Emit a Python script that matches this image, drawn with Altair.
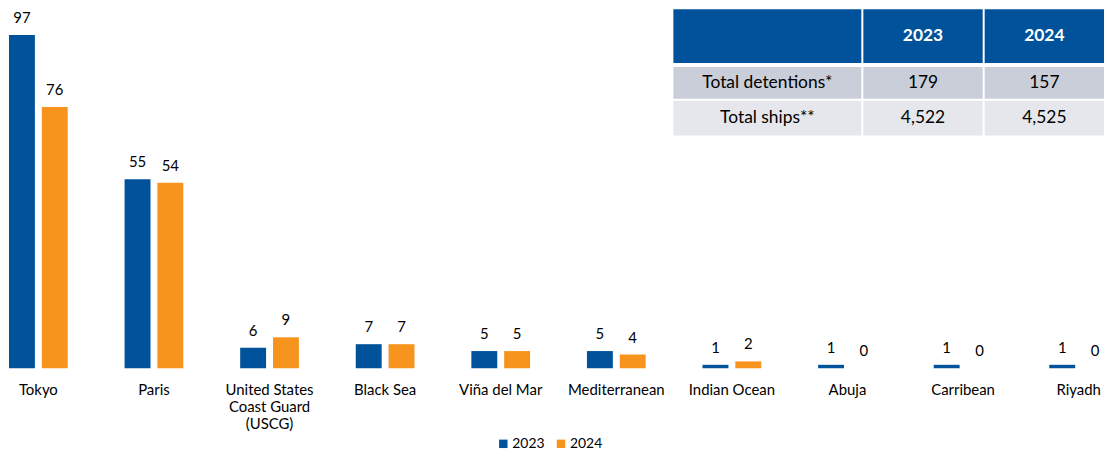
import altair as alt
import pandas as pd

# ---- data ----
CATEGORIES = ["Tokyo", "Paris", "United States\nCoast Guard\n(USCG)", "Black Sea",
              "Viña del Mar", "Mediterranean", "Indian Ocean", "Abuja", "Carribean", "Riyadh"]
VALUES_2023 = [97, 55, 6, 7, 5, 5, 1, 1, 1, 1]
VALUES_2024 = [76, 54, 9, 7, 5, 4, 2, 0, 0, 0]
SERIES = ["2023", "2024"]

TABLE_HEADER = ["", "2023", "2024"]
TABLE_ROW_LABELS = ["Total detentions*", "Total ships**"]
TABLE_2023 = ["179", "4,522"]
TABLE_2024 = ["157", "4,525"]

# ---- styles / layout ----
BLUE = "#00529B"
ORANGE = "#F7941D"
ROW_COLORS = ["#C9CED9", "#E6E7EC"]
FONT = "Lato"
PLOT_W = 1105
PLOT_H = 361
COL_EDGES = [(668, 857), (859, 979), (981, 1101)]
ROW_EDGES = [(0, 54), (58, 90), (92, 127)]

rows = []
for i, c in enumerate(CATEGORIES):
    rows.append({"cat": c, "year": "2023", "value": VALUES_2023[i]})
    rows.append({"cat": c, "year": "2024", "value": VALUES_2024[i]})
df = pd.DataFrame(rows)

x_enc = alt.X("cat:N", sort=CATEGORIES,
              scale=alt.Scale(paddingInner=0.492, paddingOuter=0),
              axis=alt.Axis(title=None, labelAngle=0, domain=False, ticks=False,
                            labelPadding=14, labelFontSize=15, labelFont=FONT,
                            labelColor="#000000", labelLineHeight=17.5,
                            labelExpr="split(datum.label, '\\n')", grid=False))
xo_enc = alt.XOffset("year:N", sort=SERIES,
                     scale=alt.Scale(paddingInner=0.21, paddingOuter=0))
y_enc = alt.Y("value:Q", scale=alt.Scale(domain=[0, 104.5], nice=False, zero=True),
              axis=None)

bars = alt.Chart(df).mark_bar().encode(
    x=x_enc, xOffset=xo_enc, y=y_enc,
    color=alt.Color("year:N", sort=SERIES,
                    scale=alt.Scale(domain=SERIES, range=[BLUE, ORANGE]),
                    legend=alt.Legend(title=None, orient="none", legendX=490, legendY=430,
                                      direction="horizontal", symbolType="square",
                                      symbolSize=72, symbolStrokeWidth=0,
                                      labelFontSize=14, labelFont=FONT,
                                      labelColor="#000000", labelOffset=2,
                                      columnPadding=9)),
)

labels = alt.Chart(df).mark_text(baseline="bottom", dy=-9, fontSize=15, font=FONT,
                                 color="#000000").encode(
    x=x_enc, xOffset=xo_enc, y=y_enc, text="value:Q"
)

chart_main = alt.layer(bars, labels)

# ---- table ----
cells = []
table_rows = [TABLE_HEADER] + [[TABLE_ROW_LABELS[i], TABLE_2023[i], TABLE_2024[i]]
                               for i in range(len(TABLE_ROW_LABELS))]
for r, row in enumerate(table_rows):
    for c, txt in enumerate(row):
        x0, x1 = COL_EDGES[c]
        y0, y1 = ROW_EDGES[r]
        cells.append({
            "x0": x0, "x1": x1, "y0": y0, "y1": y1,
            "xm": (x0 + x1) / 2, "ym": (y0 + y1) / 2,
            "fill": BLUE if r == 0 else ROW_COLORS[r - 1],
            "txt": txt,
            "weight": "bold" if r == 0 else "normal",
        })
tdf = pd.DataFrame(cells)

table_rect = alt.Chart(tdf).mark_rect().encode(
    x=alt.X("x0:Q", scale=None, axis=None),
    x2="x1:Q",
    y=alt.Y("y0:Q", scale=None, axis=None),
    y2="y1:Q",
    color=alt.Color("fill:N", scale=None, legend=None),
)
table_text_hdr = alt.Chart(tdf[tdf["weight"] == "bold"]).mark_text(
    fontSize=17.5, font=FONT, fontWeight="bold", baseline="middle", color="#FFFFFF").encode(
    x=alt.X("xm:Q", scale=None, axis=None),
    y=alt.Y("ym:Q", scale=None, axis=None),
    text="txt:N",
)
table_text_body = alt.Chart(tdf[tdf["weight"] == "normal"]).mark_text(
    fontSize=17.5, font=FONT, baseline="middle", color="#000000").encode(
    x=alt.X("xm:Q", scale=None, axis=None),
    y=alt.Y("ym:Q", scale=None, axis=None),
    text="txt:N",
)
table = alt.layer(table_rect, table_text_hdr, table_text_body)

chart = alt.layer(chart_main, table).resolve_scale(
    x="independent", y="independent", color="independent"
).properties(
    width=PLOT_W, height=PLOT_H, padding=0, background="#FFFFFF"
).configure_view(stroke=None)

chart.save("out.html", embed_options={"renderer": "svg", "actions": False})
